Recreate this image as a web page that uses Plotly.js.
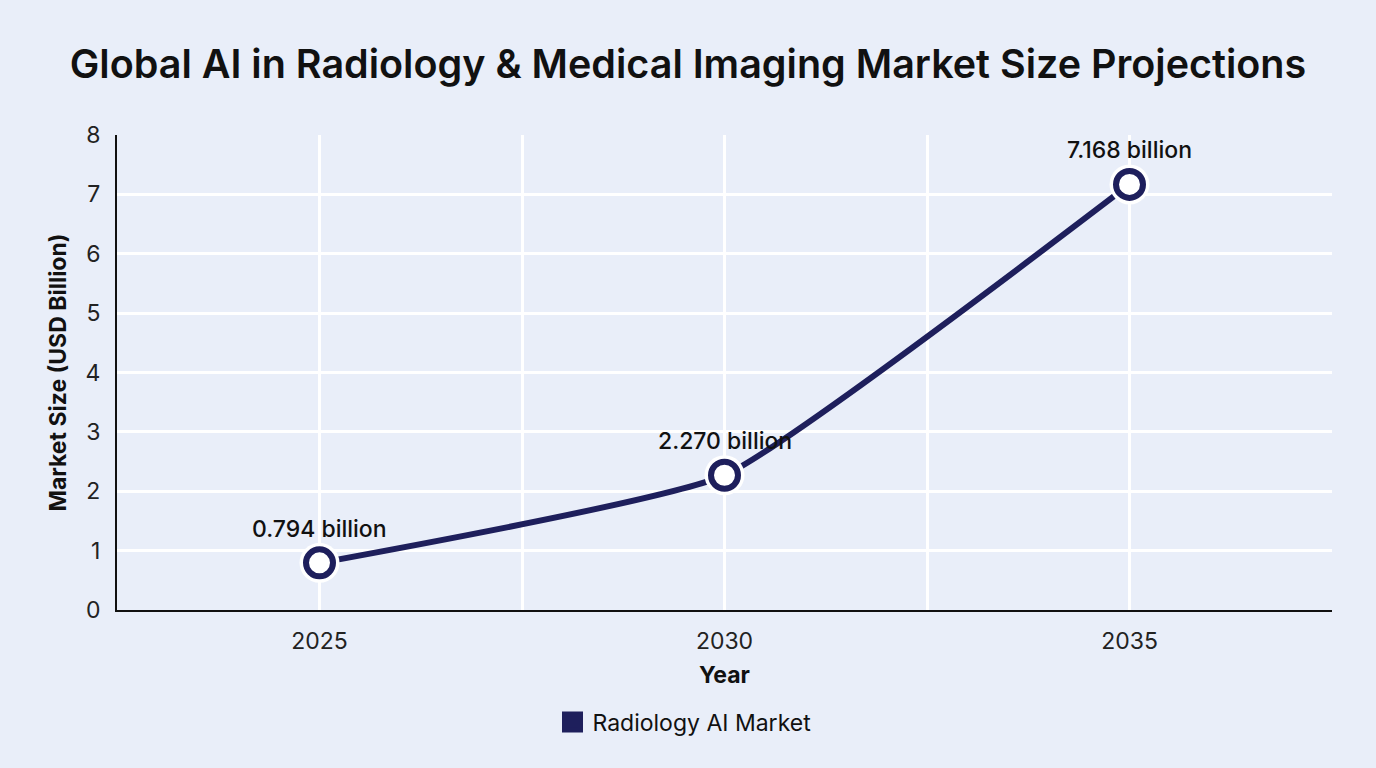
<!DOCTYPE html>
<html>
<head>
<meta charset="utf-8">
<script src="https://cdn.plot.ly/plotly-3.0.1.min.js"></script>
<style>
html,body{margin:0;padding:0;background:#e9eef9;}
#chart{width:1376px;height:768px;}
</style>
</head>
<body>
<div id="chart"></div>
<script>
const years = [2025, 2030, 2035];
const marketSize = [0.794, 2.270, 7.168];
const pointLabels = ['0.794 billion', '2.270 billion', '7.168 billion'];
const seriesName = 'Radiology AI Market';
const xTickVals = [2022.5, 2025, 2027.5, 2030, 2032.5, 2035, 2037.5];
const xTickText = ['', '2025', '', '2030', '', '2035', ''];

const navy = '#1e1f5c';
const font = 'Inter, "Open Sans", sans-serif';

const traces = [
  {x: years, y: marketSize, mode: 'lines', line: {color: navy, width: 6, shape: 'spline', smoothing: 0.4}, showlegend: false, hoverinfo: 'skip'},
  {x: years, y: marketSize, mode: 'markers', marker: {size: 40, color: '#ffffff'}, showlegend: false, hoverinfo: 'skip'},
  {x: years, y: marketSize, mode: 'markers', marker: {size: 27, color: '#ffffff', line: {color: navy, width: 6}}, showlegend: false},
  {x: [null], y: [null], mode: 'markers', name: seriesName, marker: {symbol: 'square', size: 24, color: navy, line: {color: navy, width: 5}}, showlegend: true}
];

const annotations = years.map((yr, i) => ({
  x: yr, y: marketSize[i], text: pointLabels[i], showarrow: false,
  yshift: 34, font: {family: font, size: 23, color: '#111111', weight: 500}
}));

const layout = {
  width: 1376, height: 768,
  paper_bgcolor: '#e9eef9', plot_bgcolor: '#e9eef9',
  margin: {l: 117, r: 44, t: 135, b: 158},
  title: {text: 'Global AI in Radiology & Medical Imaging Market Size Projections', x: 0.5, xanchor: 'center', y: 1 - 64/768, yanchor: 'middle', font: {family: font, size: 39.5, color: '#111111', weight: 600}},
  xaxis: {
    range: [2022.5, 2037.5], tickmode: 'array', tickvals: xTickVals, ticktext: xTickText,
    showgrid: true, gridcolor: '#ffffff', gridwidth: 3, zeroline: false,
    showline: true, linecolor: '#111111', linewidth: 2, ticks: '', ticklabelstandoff: 9,
    tickfont: {family: font, size: 23, color: '#222222'},
    title: {text: 'Year', standoff: 13, font: {family: font, size: 23, color: '#111111', weight: 700}}
  },
  yaxis: {
    range: [0, 8], dtick: 1, tick0: 0,
    showgrid: true, gridcolor: '#ffffff', gridwidth: 3, zeroline: false,
    showline: true, linecolor: '#111111', linewidth: 2, ticks: '', ticklabelstandoff: 10,
    tickfont: {family: font, size: 23, color: '#222222'},
    title: {text: 'Market Size (USD Billion)', standoff: 12, font: {family: font, size: 23, color: '#111111', weight: 700}}
  },
  showlegend: true,
  legend: {orientation: 'h', x: 0.5 - 40/1215, xanchor: 'center', y: -112/475, yanchor: 'middle', bgcolor: 'rgba(0,0,0,0)', font: {family: font, size: 23, color: '#111111'}},
  annotations: annotations
};

Plotly.newPlot('chart', traces, layout, {displayModeBar: false, staticPlot: true});
</script>
</body>
</html>
